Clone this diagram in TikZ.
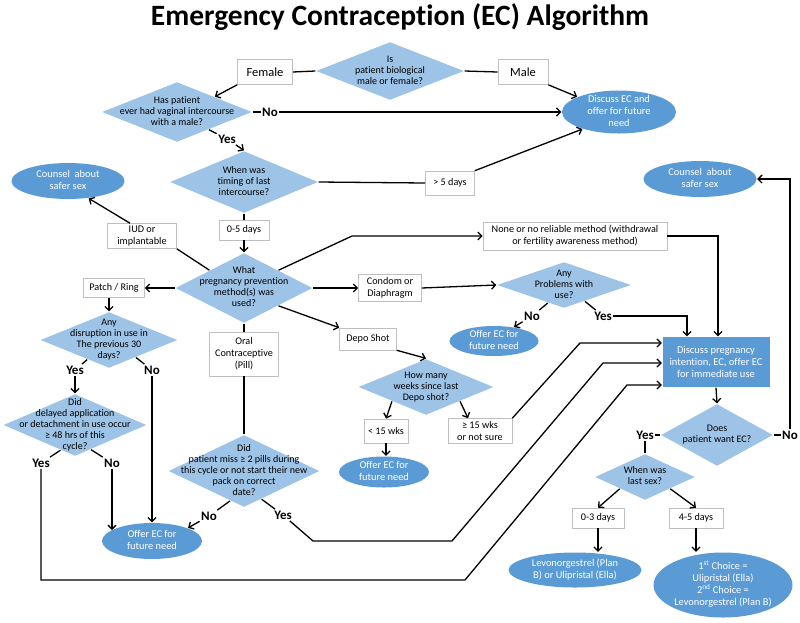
\documentclass[tikz,border=0pt]{standalone}
\usepackage{fontspec}
\setmainfont{Carlito}[Ligatures=NoCommon]
\usetikzlibrary{shapes.geometric,arrows.meta}
\definecolor{diablue}{HTML}{9DC3E6}
\definecolor{ellblue}{HTML}{5B9BD5}
\definecolor{boxgray}{HTML}{BFBFBF}
% text of fixed size shapes (diamonds, ellipses): takes no room
\newcommand{\ctxt}[1]{\makebox[0pt]{\smash{\raisebox{-2.5pt}{\begin{tabular}{@{}c@{}}#1\end{tabular}}}}}
\begin{document}
\begin{tikzpicture}[x=1pt,y=-1pt,>={Straight Barb[length=4pt,width=8pt]},line width=1.3pt,
  dia/.style 2 args={diamond,fill=diablue,inner sep=0pt,minimum width=#1pt,minimum height=#2pt,font=\fontsize{10}{11}\selectfont},
  ell/.style 2 args={ellipse,fill=ellblue,text=white,inner sep=0pt,minimum width=#1pt,minimum height=#2pt,font=\fontsize{10.4}{12}\selectfont},
  box/.style 2 args={rectangle,draw=boxgray,line width=0.6pt,fill=white,align=center,inner sep=1pt,minimum width=#1pt,minimum height=#2pt,font=\fontsize{10.2}{12}\selectfont},
  lab/.style={font=\fontsize{13}{15}\bfseries\selectfont,inner sep=1pt}]
\fill[white] (0,0) rectangle (800,622);
\useasboundingbox (0,0) rectangle (800,622);
\node[font=\fontsize{29.5}{33}\bfseries\selectfont] (title) at (400,17) {Emergency Contraception (EC) Algorithm};
% questions
\node[dia={148}{58}] (isq) at (390,71) {\ctxt{Is\\patient biological\\male or female?}};
\node[dia={150}{60}] (hasp) at (177,112) {\ctxt{Has patient\\ever had vaginal intercourse\\with a male?}};
\node[dia={148}{62}] (when) at (244,182) {\ctxt{When was\\timing of last\\intercourse?}};
\node[dia={137}{70}] (what) at (244,288) {\ctxt{What\\pregnancy prevention\\method(s) was\\used?}};
\node[dia={137}{56}] (disr) at (109,340) {\ctxt{Any\\disruption in use in\\The previous 30\\days?}};
\node[dia={143}{62}] (disp) at (75,425) {\ctxt{Did\\delayed application\\or detachment in use occur\\≥ 48 hrs of this\\cycle?}};
\node[dia={151}{72}] (pill) at (244,471) {\ctxt{Did\\patient miss ≥ 2 pills during\\this cycle or not start their new\\pack on correct\\date?}};
\node[dia={134}{46}] (anyp) at (564,285) {\ctxt{Any\\Problems with\\use?}};
\node[dia={135}{56}] (howm) at (426,387) {\ctxt{How many\\weeks since last\\Depo shot?}};
\node[dia={112}{62}] (want) at (717,435) {\ctxt{Does\\patient want EC?}};
\node[dia={100}{46}] (last) at (645,477) {\ctxt{When was\\last sex?}};
% answers
\node[box={55}{25},font=\fontsize{12.5}{15}\selectfont] (female) at (265,72) {Female};
\node[box={50}{25},font=\fontsize{12.5}{15}\selectfont] (male) at (523,72) {Male};
\node[box={49}{24}] (gt5) at (450,183) {> 5 days};
\node[box={50}{20}] (d05) at (244,230) {0-5 days};
\node[box={69}{25}] (iud) at (142,236) {IUD or\\implantable};
\node[box={61}{19}] (patch) at (114,288) {Patch / Ring};
\node[box={69}{44}] (oral) at (244,354) {Oral\\Contraceptive\\(Pill)};
\node[box={63}{27}] (cond) at (390,288) {Condom or\\Diaphragm};
\node[box={184}{28}] (none) at (575,236) {None or no reliable method (withdrawal\\or fertility awareness method)};
\node[box={57}{22}] (depo) at (368,339) {Depo Shot};
\node[box={44}{24}] (lt15) at (386,431) {< 15 wks};
\node[box={64}{25}] (ge15) at (480,431) {≥ 15 wks\\or not sure};
\node[box={52}{20}] (d03) at (598,518) {0-3 days};
\node[box={54}{20}] (d45) at (696,518) {4-5 days};
% outcomes
\node[ell={114}{43}] (discf) at (619,112) {\ctxt{Discuss EC and\\offer for future\\need}};
\node[ell={113}{36}] (couns1) at (68,181) {\ctxt{Counsel\ \ about\\safer sex}};
\node[ell={113}{36}] (couns2) at (700,179) {\ctxt{Counsel\ \ about\\safer sex}};
\node[ell={100}{36}] (off1) at (152,541) {\ctxt{Offer EC for\\future need}};
\node[ell={89}{30}] (off2) at (494,341) {\ctxt{Offer EC for\\future need}};
\node[ell={90}{31}] (off3) at (384,472) {\ctxt{Offer EC for\\future need}};
\node[ell={133}{35}] (levo) at (575,570) {\ctxt{Levonorgestrel (Plan\\B) or Ulipristal (Ella)}};
\node[ell={139}{65}] (choice) at (723,585) {\ctxt{1\textsuperscript{st} Choice =\\Ulipristal (Ella)\\2\textsuperscript{nd} Choice =\\Levonorgestrel (Plan B)}};
\node[rectangle,fill=ellblue,text=white,minimum width=107pt,minimum height=50pt,align=center,font=\fontsize{10.5}{12}\selectfont] (discp) at (716,362) {Discuss pregnancy\\intention, EC, offer EC\\for immediate use};
% yes / no
\node[lab] (no1) at (270,112) {No};
\node[lab] (yes1) at (227,139) {Yes};
\node[lab] (yes2) at (75,370) {Yes};
\node[lab] (no2) at (152,370) {No};
\node[lab] (yes3) at (41,463) {Yes};
\node[lab] (no3) at (112,463) {No};
\node[lab] (no4) at (209,516) {No};
\node[lab] (yes4) at (283,515) {Yes};
\node[lab] (no5) at (532,316) {No};
\node[lab] (yes5) at (603,316) {Yes};
\node[lab] (yes6) at (645,435) {Yes};
\node[lab] (no6) at (790,435) {No};
% connectors
\draw (isq.west) -- (female.east);
\draw (isq.east) -- (male.west);
\draw[->] (female.south west) -- (hasp.north east);
\draw[->] (male.south east) -- (discf.160);
\draw (hasp.east) -- (no1);
\draw[->] (no1) -- (discf.west);
\draw (hasp.-29) -- (yes1);
\draw[->] (yes1) -- (when.north);
\draw (when.east) -- (gt5.west);
\draw[->] (gt5.north east) -- (discf.205);
\draw (when.south) -- (d05.north);
\draw[->] (d05.south) -- (what.north);
\draw (what.north west) -- (iud.south east);
\draw[->] ([xshift=-12pt]iud.north) -- (couns1.-40);
\draw[->] (what.west) -- (patch.east);
\draw[->] (patch.south -| disr.north) -- (disr.north);
\draw (disr.-138) -- (yes2);
\draw[->] (yes2) -- (disp.north);
\draw (disr.-33) -- (no2);
\draw[->] (no2) -- (off1.north);
\draw (disp.-120) -- (yes3);
\draw[->] (yes3) -- (41,580) -- (465,580) -- (627,385) -- ([yshift=-23pt]discp.west);
\draw (disp.-57) -- (no3);
\draw[->] (no3) -- (no3 |- off1.165);
\draw (what.south) -- (oral.north);
\draw (oral.south) -- (pill.north);
\draw (pill.-115) -- (no4);
\draw[->] (no4) -- (off1.20);
\draw (pill.-58) -- (yes4);
\draw[->] (yes4) -- (313,541) -- (452,541) -- (603,363) -- ([yshift=-1pt]discp.west);
\draw[->] (what.north east) -- (352,236) -- (none.west);
\draw[->] (what.east) -- (cond.west);
\draw[->] (cond.east) -- (anyp.west);
\draw (anyp.-132) -- (no5);
\draw[->] (no5) -- (off2.35);
\draw (anyp.-38) -- (yes5);
\draw[->] (yes5) -| ([xshift=-29pt]discp.north);
\draw[->] (none) -| ([xshift=2pt]discp.north);
\draw[->] (what.south east) -- (depo.north west);
\draw[->] (depo.south east) -- (howm.north);
\draw[->] (howm.south west) -- (lt15.north);
\draw[->] (howm.south east) -- ([xshift=-12pt]ge15.north);
\draw[->] (lt15.south) -- (lt15.south |- off3.north);
\draw[->] (ge15.north east) -- (580,343) -- ([yshift=19pt]discp.west);
\draw[->] (discp.south) -- (want.north);
\draw (want.east) -- (no6);
\draw[->] (no6) |- (couns2);
\draw (want.west) -- (yes6);
\draw (yes6) -- (last.north);
\draw[->] (last.south west) -- (d03.north);
\draw[->] (last.south east) -- (d45.north);
\draw[->] (d03.south) -- (d03.south |- levo.north);
\draw[->] (d45.south) -- (d45.south |- choice.north);
\end{tikzpicture}
\end{document}
